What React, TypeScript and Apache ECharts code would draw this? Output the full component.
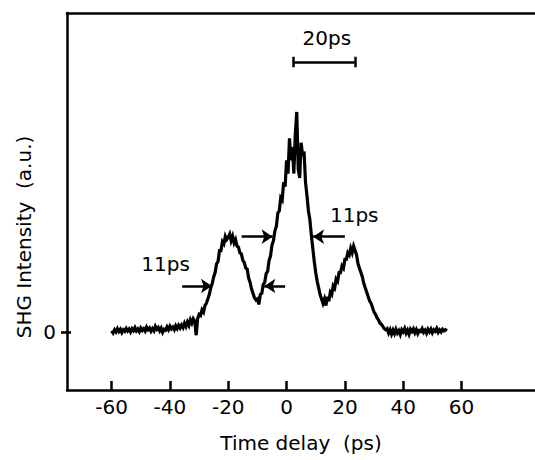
import React, { useEffect, useRef } from "react";
import * as echarts from "echarts";

// Sampling of the trace (ps)
const START_DELAY = -60;
const STEP = 0.5;

// SHG intensity (a.u., central peak = 100)
const baselineLeft = [
  0.5, -0.5, 1, 0, 1.5, 0.2, 1.2, -0.3, 1, 0.3,
  1.6, 0.4, 1.3, 0, 1.5, 0.6, 2, 0.5, 1.4, 0.2,
  1.8, 0.7, 1.5, 0.4, 2.2, 1, 1.8, 0.3, 1.5, 0.5,
  2.5, 1.2, 2, 0.5, 1.7, -0.2, 1.2, 0.8, 2.3, 1,
  2.6, 1.4, 2.2, 1, 2.8, 1.5, 3, 1.8, 3.2, 2,
  4, 2.5, 4.5, 3,
];
const leftPeak = [
  5.5, 4, 6, 5, -1.5, 6, 8, 7.5, 10, 9,
  12, 13, 15, 17, 20, 22, 25, 27, 31, 32,
  37, 37, 41, 40, 43.5, 42, 43, 44.5, 41.5, 43.5,
  40.5, 42, 39, 38.5, 36, 35.5, 32.5, 31.5, 29, 28.5,
  24.5, 22.5, 19.5, 17.5, 15.5, 14.5,
];
const centralPeak = [
  15, 12.5, 17, 17.5, 21.5, 22.5, 26.5, 27.5, 32.5, 34.5,
  39.5, 41.5, 46, 48, 54, 55, 61, 60, 68, 66,
  78, 72, 88, 78, 84, 72, 90, 100, 74, 70,
  86, 80, 82, 68, 62, 55, 51, 44, 38, 32,
  27, 23, 20, 17, 15, 13,
];
const rightPeak = [
  15, 12, 16, 14, 18, 17, 21, 20, 24, 23,
  27, 27, 30, 29, 33, 33, 36, 35, 38, 36,
  39, 37, 35, 31, 29, 27, 25, 22, 20, 18,
  16, 14, 13, 11, 9, 8, 6.5, 5.5, 4, 3.5,
  2.5, 1.5, 1,
];
const baselineRight = [
  1.5, -0.5, 1, -1, 0.8, -0.8, 1.2, -0.5, 0.6, -1.2,
  1, 0, 1.5, -0.6, 0.8, -1, 1.2, 0.2, 1.4, -0.4,
  1, -0.8, 0.6, 0.2, 1.5, -0.2, 0.8, -0.6, 1.2, 0,
  1.3, -0.4, 1, 0.3, 1.6, -0.2, 0.9, 0, 1.2, 0.5,
  1, 0.5,
];

const xTicks = [-60, -40, -20, 0, 20, 40, 60];
const yTicks = [0];

// Annotations (data coordinates)
const scaleBar = { from: 2.2, to: 23.4, level: 122.7, label: "20ps", labelAt: [13.8, 133.6] };
const leftWidth = { label: "11ps", labelAt: [-41.5, 30.9], level: 20.9, arrowIn: [-35.8, -25.6], arrowOut: [-0.5, -7.6] };
const centerWidth = { label: "11ps", labelAt: [23.2, 53.2], level: 43.3, arrowIn: [-15.4, -4.8], arrowOut: [20, 9.1] };

const FONT = "DejaVu Sans, Liberation Sans, Arial, sans-serif";
const FS = 20;

export default function App() {
  const ref = useRef<HTMLDivElement>(null);
  useEffect(() => {
    if (!ref.current) return;
    const chart = echarts.init(ref.current, null, { renderer: "svg" });
    const values = [...baselineLeft, ...leftPeak, ...centralPeak, ...rightPeak, ...baselineRight];
    const data = values.map((v, i) => [START_DELAY + i * STEP, v]);

    const seg = (x1: number, y1: number, x2: number, y2: number, arrow: boolean) => [
      { coord: [x1, y1], symbol: "none" },
      { coord: [x2, y2], symbol: arrow ? "arrow" : "none" },
    ];
    const capH = 2.4;
    const lineData = [
      seg(scaleBar.from, scaleBar.level, scaleBar.to, scaleBar.level, false),
      seg(scaleBar.from, scaleBar.level - capH, scaleBar.from, scaleBar.level + capH, false),
      seg(scaleBar.to, scaleBar.level - capH, scaleBar.to, scaleBar.level + capH, false),
      seg(leftWidth.arrowIn[0], leftWidth.level, leftWidth.arrowIn[1], leftWidth.level, true),
      seg(leftWidth.arrowOut[0], leftWidth.level, leftWidth.arrowOut[1], leftWidth.level, true),
      seg(centerWidth.arrowIn[0], centerWidth.level, centerWidth.arrowIn[1], centerWidth.level, true),
      seg(centerWidth.arrowOut[0], centerWidth.level, centerWidth.arrowOut[1], centerWidth.level, true),
    ];
    const textPoint = (label: string, at: number[]) => ({
      coord: at,
      symbol: "circle",
      symbolSize: 1,
      itemStyle: { color: "rgba(0,0,0,0)" },
      label: {
        show: true,
        position: "inside",
        formatter: label,
        color: "#000",
        fontSize: FS,
        fontFamily: FONT,
      },
    });

    const xMin = -75.3;
    const xMax = 85.2;
    const yMin = -26.4;
    const yMax = 145;
    chart.setOption({
      animation: false,
      backgroundColor: "#fff",
      grid: { left: 67, right: 0, top: 13, bottom: 70 },
      xAxis: [
        {
          type: "value",
          min: xMin,
          max: xMax,
          name: "Time delay  (ps)",
          nameLocation: "middle",
          nameGap: 43,
          nameTextStyle: { color: "#000", fontSize: FS, fontFamily: FONT },
          axisLine: { show: true, onZero: false, lineStyle: { color: "#000", width: 2.5 } },
          axisTick: { show: true, inside: true, length: 9, customValues: xTicks, lineStyle: { color: "#000", width: 2.5 } },
          axisLabel: { show: true, customValues: xTicks, margin: 7, color: "#000", fontSize: FS, fontFamily: FONT },
          splitLine: { show: false },
        },
        {
          type: "value",
          position: "top",
          min: xMin,
          max: xMax,
          axisLine: { show: true, onZero: false, lineStyle: { color: "#000", width: 2.5 } },
          axisTick: { show: false },
          axisLabel: { show: false },
          splitLine: { show: false },
        },
      ],
      yAxis: [
        {
          type: "value",
          min: yMin,
          max: yMax,
          axisLine: { show: true, onZero: false, lineStyle: { color: "#000", width: 2.5 } },
          axisTick: { show: true, length: 6, customValues: yTicks, lineStyle: { color: "#000", width: 2.5 } },
          axisLabel: { show: true, customValues: yTicks, margin: 11, color: "#000", fontSize: FS, fontFamily: FONT },
          splitLine: { show: false },
        },
        {
          type: "value",
          position: "left",
          min: yMin,
          max: yMax,
          axisLine: { show: false, onZero: false },
          axisTick: { show: true, inside: true, length: 4, customValues: yTicks, lineStyle: { color: "#000", width: 2.5 } },
          axisLabel: { show: false },
          splitLine: { show: false },
        },
      ],
      graphic: [
        {
          type: "text",
          x: 24,
          y: 237,
          rotation: Math.PI / 2,
          style: {
            text: "SHG Intensity  (a.u.)",
            fill: "#000",
            fontSize: FS,
            fontFamily: FONT,
            align: "center",
            verticalAlign: "middle",
          },
        },
      ],
      series: [
        {
          type: "line",
          xAxisIndex: 0,
          yAxisIndex: 0,
          data,
          showSymbol: false,
          symbol: "none",
          lineStyle: { color: "#000", width: 3.2, join: "miter" },
          silent: true,
          markLine: {
            silent: true,
            symbolSize: [11, 11],
            label: { show: false },
            lineStyle: { color: "#000", width: 2.5, type: "solid" },
            data: lineData,
          },
          markPoint: {
            silent: true,
            data: [
              textPoint(scaleBar.label, scaleBar.labelAt),
              textPoint(leftWidth.label, leftWidth.labelAt),
              textPoint(centerWidth.label, centerWidth.labelAt),
            ],
          },
        },
      ],
    });
    return () => chart.dispose();
  }, []);
  return (
    <div
      ref={ref}
      style={{ position: "fixed", left: 0, top: 0, width: 535, height: 460, background: "#fff" }}
    />
  );
}
